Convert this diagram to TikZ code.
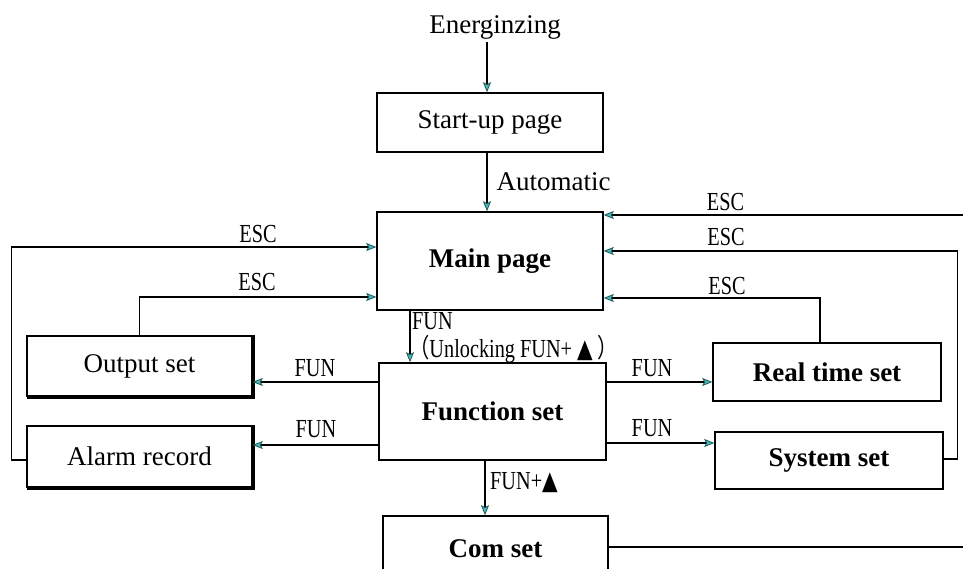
\documentclass[tikz,border=0pt]{standalone}
\usepackage{fontspec}
\setmainfont{Liberation Serif}
\newfontfamily\symfont{DejaVu Sans}
\newfontfamily\cjkfont{Noto Sans CJK SC}
\usetikzlibrary{arrows.meta}
\definecolor{arrc}{RGB}{70,185,185}
\definecolor{arrd}{RGB}{30,90,90}
\newcommand\lbl[1]{\scalebox{0.78}[1]{\fontsize{26}{26}\selectfont #1}}
\begin{document}
\begin{tikzpicture}[x=1pt,y=-1pt,
  box/.style={draw, line width=1.5pt, inner sep=0pt, font=\fontsize{27}{27}\selectfont},
  bbox/.style={box, font=\fontsize{27}{27}\selectfont\bfseries},
  conn/.style={line width=1.2pt},
  arr/.style={conn, -{Stealth[length=10pt,width=8pt,inset=2pt,line width=0.8pt,color=arrd,fill=arrc]}},
  lab/.style={inner sep=0pt},
  shadowline/.style={line width=1.5pt}]
\useasboundingbox (0,0) rectangle (963,569);
\fill[white] (0,0) rectangle (963,569);

% nodes
\node[font=\fontsize{27}{27}\selectfont] (energ) at (495,27) {Energinzing};
\node[box, minimum width=226pt, minimum height=59pt] (start) at (490,122.5) {Start-up page};
\node[bbox, minimum width=226pt, minimum height=98pt] (main) at (490,261) {Main page};
\node[bbox, minimum width=227pt, minimum height=97pt] (func) at (492.5,411.5) {Function set};
\node[bbox, minimum width=225pt, minimum height=66pt] (com) at (495.5,549) {Com set};
\node[box, minimum width=225pt, minimum height=60pt] (output) at (139.5,366) {Output set};
\node[box, minimum width=225pt, minimum height=61pt] (alarm) at (139.5,456.5) {Alarm record};
\node[bbox, minimum width=228pt, minimum height=58pt] (real) at (827,372) {Real time set};
\node[bbox, minimum width=228pt, minimum height=57pt] (system) at (829,460.5) {System set};

% shadow edges (thick right and bottom borders)
\draw[shadowline] ([xshift=1.2pt]output.north east) -- ([xshift=1.2pt,yshift=-1.2pt]output.south east) -- ([xshift=1.2pt,yshift=-1.2pt]output.south west);
\draw[shadowline] ([xshift=1.2pt]alarm.north east) -- ([xshift=1.2pt,yshift=-1.2pt]alarm.south east) -- ([xshift=1.2pt,yshift=-1.2pt]alarm.south west);

% vertical chain
\draw[arr] ([xshift=-3pt]start.north |- energ.south) -- ([xshift=-3pt]start.north);
\draw[arr] ([xshift=-3pt]start.south) -- ([xshift=-3pt]main.north)
  node[midway, right, inner sep=0pt, xshift=9pt, font=\fontsize{27}{27}\selectfont] {Automatic};
\draw[arr] ([xshift=-80pt]main.south) -- ([xshift=-80pt]main.south |- func.north);
\draw[arr] ([xshift=-7.5pt]func.south) -- ([xshift=-7.5pt]func.south |- com.north);

% FUN branches
\draw[arr] ([yshift=29.5pt]func.west) -- ([yshift=29.5pt]func.west -| output.east);
\draw[arr] ([yshift=-33.5pt]func.west) -- ([yshift=-33.5pt]func.west -| alarm.east);
\draw[arr] ([yshift=29.5pt]func.east) -- ([yshift=29.5pt]func.east -| real.west);
\draw[arr] ([yshift=-31.5pt]func.east) -- ([yshift=-31.5pt]func.east -| system.west);

% ESC returns
\draw[arr] ([yshift=-3.5pt]alarm.west) -- ++(-15,0) |- ([yshift=14pt]main.west);
\draw[arr] (output.north) |- ([yshift=-36pt]main.west);
\draw[arr] ([xshift=-7pt]real.north) |- ([yshift=-37pt]main.east);
\draw[arr] ([yshift=1.5pt]system.east) -- ++(14,0) |- ([yshift=10pt]main.east);
\draw[arr] ([yshift=2pt]com.east) -- ++(380,0) |- ([yshift=46pt]main.east);

% labels
\node[lab] (l1) at (258,234) {\lbl{ESC}};
\node[lab] (l2) at (257,282.5) {\lbl{ESC}};
\node[lab] (l3) at (725.5,202.5) {\lbl{ESC}};
\node[lab] (l4) at (726,237.5) {\lbl{ESC}};
\node[lab] (l5) at (727,286) {\lbl{ESC}};
\node[lab] (l6) at (315,368) {\lbl{FUN}};
\node[lab] (l7) at (316,429) {\lbl{FUN}};
\node[lab] (l8) at (652,368) {\lbl{FUN}};
\node[lab] (l9) at (652,428) {\lbl{FUN}};
\node[lab, anchor=west] (l10) at (412,321.5) {\lbl{FUN}};
\node[lab, anchor=west] (l11) at (409,349) {\lbl{{\cjkfont （}Unlocking FUN+ {\symfont ▲} {\cjkfont ）}}};
\node[lab, anchor=west] (l12) at (490,483) {\lbl{FUN+{\symfont ▲}}};
\end{tikzpicture}
\end{document}
